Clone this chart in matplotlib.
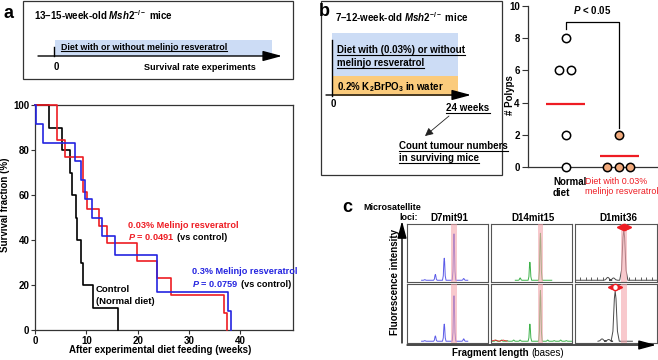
import matplotlib
matplotlib.use('Agg')
import matplotlib.pyplot as plt
from matplotlib.patches import Rectangle
from matplotlib import font_manager as fm

names = {f.name for f in fm.fontManager.ttflist}
FAM = 'Liberation Sans Narrow' if 'Liberation Sans Narrow' in names else 'Liberation Sans'
plt.rcParams['font.family'] = [FAM, 'Liberation Sans', 'DejaVu Sans']
plt.rcParams['font.weight'] = 'bold'
plt.rcParams['mathtext.fontset'] = 'custom'
plt.rcParams['mathtext.rm'] = FAM + ':bold'
plt.rcParams['mathtext.it'] = FAM + ':italic:bold'
plt.rcParams['mathtext.bf'] = FAM + ':bold'

# ---------------- data ----------------
km_weeks_control = [0, 2.8, 5.2, 6.8, 7.3, 8.0, 8.25, 9.0, 9.3, 11.4, 16.2]
km_surv_control = [100, 90, 80, 70, 60, 50, 40, 30, 20, 10, 0]
km_weeks_003 = [0, 4.35, 5.85, 9.3, 10.2, 12.5, 14.0, 19.8, 23.7, 26.45, 36.8, 37.5]
km_surv_003 = [100, 84.6, 76.9, 61.5, 53.8, 46.2, 38.5, 30.8, 23.1, 15.4, 7.7, 0]
km_weeks_03 = [0, 0.1, 1.5, 7.8, 9.0, 9.75, 11.05, 13.0, 15.6, 23.85, 37.7, 38.3]
km_surv_03 = [100, 91.7, 83.3, 75, 66.7, 58.3, 50, 41.7, 33.3, 16.7, 8.3, 0]
km_xticks = [0, 10, 20, 30, 40]
km_yticks = [0, 20, 40, 60, 80, 100]

polyp_groups = ['Normal\ndiet', 'Diet with 0.03%\nmelinjo resveratrol']
polyp_normal = [8, 6, 6, 2, 0]
polyp_normal_x = [1.0, 0.87, 1.09, 1.0, 1.0]
polyp_diet = [2, 0, 0, 0]
polyp_diet_x = [2.0, 1.77, 2.0, 2.21]
polyp_means = [3.9, 0.7]
polyp_yticks = [0, 2, 4, 6, 8, 10]

loci = ['D7mit91', 'D14mit15', 'D1mit36']
# peaks (position within panel 0-1, relative height) per locus, [top row, bottom row]
peaks_pos = [
    [[0.22, 0.35, 0.46, 0.58, 0.70], [0.22, 0.35, 0.46, 0.58, 0.70]],
    [[0.36, 0.48, 0.61], [0.06, 0.13, 0.20, 0.28, 0.36, 0.48, 0.61, 0.70, 0.78, 0.86, 0.93]],
    [[0.40, 0.47, 0.595], [0.33, 0.41, 0.49]],
]
peaks_h = [
    [[0.04, 0.13, 0.41, 0.83, 0.06], [0.04, 0.12, 0.32, 0.80, 0.07]],
    [[0.07, 0.34, 0.84], [0.05, 0.05, 0.04, 0.05, 0.05, 0.32, 0.89, 0.05, 0.04, 0.05, 0.04]],
    [[0.08, 0.07, 0.90], [0.07, 0.06, 0.88]],
]
trace_span = [[[0.18, 0.75], [0.18, 0.75]], [[0.30, 0.75], [0.0, 1.0]], [[0.0, 1.0], [0.28, 0.70]]]
peak_width = [0.022, 0.022, 0.05]
band = [[0.54, 0.62], [0.575, 0.64], [0.56, 0.63]]
trace_colors = ['#5B5BE8', '#3DB24A', '#4A4A4A']
size_std_ticks = [0.06, 0.13, 0.20, 0.27, 0.34, 0.66, 0.73, 0.80, 0.87, 0.94]
allele_marker_x = [0.595, 0.49]

RED = '#EE1C23'
BLUE = '#2424E0'

# ---------------- figure ----------------
W, H = 658, 360
fig = plt.figure(figsize=(W / 100, H / 100), dpi=100)


def fa(x0, y0, x1, y1):
    return [x0 / W, 1 - y1 / H, (x1 - x0) / W, (y1 - y0) / H]


ov = fig.add_axes([0, 0, 1, 1], zorder=10)
ov.set_xlim(0, W)
ov.set_ylim(H, 0)
ov.axis('off')
ov.patch.set_alpha(0)


def T(x, y, s, size=7, **kw):
    kw.setdefault('va', 'center')
    kw.setdefault('ha', 'left')
    return ov.text(x, y, s, fontsize=size, **kw)


def arrow(x0, y0, x1, y1, lw=1.0, hl=1.3, hw=0.35, ms=8):
    ov.annotate('', xy=(x1, y1), xytext=(x0, y0),
                arrowprops=dict(arrowstyle=f'-|>,head_length={hl},head_width={hw}',
                                color='k', lw=lw, mutation_scale=ms,
                                shrinkA=0, shrinkB=0))


# panel labels
T(3, 14, 'a', size=13, family='Liberation Sans')
T(319, 11, 'b', size=13, family='Liberation Sans')
T(342, 207, 'c', size=13, family='Liberation Sans')

# ---- panel a scheme ----
ov.add_patch(Rectangle((23, 1), 270, 78, fill=False, lw=0.9, ec='#333333'))
T(34, 15, r'13–15-week-old $\mathit{Msh2}^{-/-}$ mice')
ov.add_patch(Rectangle((55, 40), 217, 16, color='#CCDCF5', lw=0))
arrow(38, 56, 282, 56, ms=9)
ov.plot([54, 54], [47, 56], color='k', lw=1.0)
ta1 = T(61, 47, 'Diet with or without melinjo resveratrol', size=6.4)
T(56, 67, '0', ha='center')
T(256, 67, 'Survival rate experiments', ha='right', size=6.6)

# ---- panel b scheme ----
ov.add_patch(Rectangle((321, 1), 181, 174, fill=False, lw=0.9, ec='#333333'))
T(335, 17, r'7–12-week-old $\mathit{Msh2}^{-/-}$ mice')
ov.add_patch(Rectangle((332, 33), 126, 43, color='#CCDCF5', lw=0))
ov.add_patch(Rectangle((332, 76), 126, 20, color='#FBCB7C', lw=0))
ov.plot([332, 332], [40, 96], color='k', lw=1.0)
arrow(326, 95, 471, 95, ms=9)
tb1 = T(337, 50, 'Diet with (0.03%) or without')
tb2 = T(337, 63, 'melinjo resveratrol')
T(337, 87, r'0.2% K$_2$BrPO$_3$ in water')
T(333, 104, '0', ha='center')
tb3 = T(468, 108, '24 weeks', ha='center')
ov.annotate('', xy=(425, 136), xytext=(449, 116),
            arrowprops=dict(arrowstyle='-|>,head_length=0.6,head_width=0.3',
                            color='#222222', lw=0.6, mutation_scale=8,
                            shrinkA=0, shrinkB=0))
tb4 = T(399, 146, 'Count tumour numbers')
tb5 = T(399, 158, 'in surviving mice')

# ---- KM plot ----
ax = fig.add_axes(fa(35, 105, 293, 330))
ax.step(km_weeks_control, km_surv_control, where='post', color='k', lw=1.2, clip_on=False, zorder=3)
ax.step(km_weeks_003, km_surv_003, where='post', color=RED, lw=1.2, clip_on=False, zorder=4)
ax.step(km_weeks_03, km_surv_03, where='post', color=BLUE, lw=1.2, clip_on=False, zorder=5)
ax.set_xlim(0, 50.3)
ax.set_ylim(0, 100)
ax.set_xticks(km_xticks)
ax.set_yticks(km_yticks)
ax.tick_params(direction='out', length=3, width=0.8, labelsize=7, pad=1, color='#333333')
for s in ax.spines.values():
    s.set_linewidth(0.9)
    s.set_color('#333333')
for lab in ax.get_xticklabels() + ax.get_yticklabels():
    lab.set_fontweight('bold')
T(5, 205, 'Survival fraction (%)', rotation=90, ha='center')
T(160, 350, 'After experimental diet feeding (weeks)', ha='center')
T(128, 225, '0.03% Melinjo resveratrol', color=RED, size=6.6)
tp1 = T(128, 237, r'$\mathit{P}$ = 0.0491', color=RED, size=6.6)
T(192, 272, '0.3% Melinjo resveratrol', color=BLUE, size=6.6)
tp2 = T(192, 284, r'$\mathit{P}$ = 0.0759', color=BLUE, size=6.6)
T(96, 290, 'Control', size=6.8)
T(96, 302, '(Normal diet)', size=6.8)

# ---- polyps plot ----
ax2 = fig.add_axes(fa(528, 6, 657, 167))
ax2.scatter(polyp_normal_x, polyp_normal, s=36, facecolor='white', edgecolor='k',
            lw=1.1, clip_on=False, zorder=4)
ax2.scatter(polyp_diet_x, polyp_diet, s=36, facecolor='#F2AA7C', edgecolor='k',
            lw=1.1, clip_on=False, zorder=4)
ax2.hlines(polyp_means, [0.63, 1.65], [1.35, 2.37], color=RED, lw=1.6, zorder=3)
ax2.plot([1, 1, 2, 2], [8.6, 9.0, 9.0, 2.45], color='k', lw=0.9)
ax2.text(1.49, 9.35, r'$\mathit{P}$ < 0.05', ha='center', va='bottom', fontsize=7)
ax2.set_xlim(0.283, 2.717)
ax2.set_ylim(0, 10)
ax2.set_xticks([])
ax2.set_yticks(polyp_yticks)
ax2.spines['top'].set_visible(False)
ax2.spines['right'].set_visible(False)
for s in ax2.spines.values():
    s.set_linewidth(0.9)
    s.set_color('#333333')
ax2.tick_params(direction='out', length=4, width=0.8, labelsize=7, pad=2, color='#333333')
for lab in ax2.get_yticklabels():
    lab.set_fontweight('bold')
T(510, 95, '# Polyps', rotation=90, ha='center')
T(553, 177, polyp_groups[0], va='top', linespacing=1.1)
T(585, 177, polyp_groups[1], va='top', color=RED, fontweight='normal', size=6.4,
  linespacing=1.2)

# ---- panel c ----
T(363, 207, 'Microsatellite', size=6.5)
T(418, 218, 'loci:', size=6.5, ha='right')
col_x = [(407, 488), (491, 572), (575, 657)]
row_y = [(224, 282), (284, 343)]
for ci, (x0, x1) in enumerate(col_x):
    T((x0 + x1) / 2 + 2, 218, loci[ci], ha='center')
    for ri, (y0, y1) in enumerate(row_y):
        a = fig.add_axes(fa(x0, y0, x1, y1))
        a.set_xlim(0, 1)
        a.set_ylim(0, 1)
        a.set_xticks([])
        a.set_yticks([])
        for s in a.spines.values():
            s.set_linewidth(0.8)
            s.set_color('#555555')
        base = 0.03
        w = peak_width[ci]
        xs = [trace_span[ci][ri][0]]
        ys = [base]
        for c, h in sorted(zip(peaks_pos[ci][ri], peaks_h[ci][ri])):
            xs += [c - w, c - 0.55 * w, c - 0.2 * w, c, c + 0.2 * w, c + 0.55 * w, c + w]
            ys += [base, base + 0.2 * (h - base), base + 0.85 * (h - base), h,
                   base + 0.85 * (h - base), base + 0.2 * (h - base), base]
        xs.append(trace_span[ci][ri][1])
        ys.append(base)
        a.plot(xs, ys, color=trace_colors[ci], lw=0.7)
        a.axvspan(band[ci][0], band[ci][1], color='#F4A5AD', alpha=0.6, lw=0, zorder=3)
        if ci == 1 and ri == 1:
            a.plot([0.0, 0.05, 0.1, 0.15, 0.2], [0.03, 0.05, 0.03, 0.05, 0.03], color=RED, lw=0.6)
        if ci == 2 and ri == 0:
            a.vlines(size_std_ticks, 0.03, 0.08, color='#444444', lw=0.6)
        if ci == 2:
            mx = allele_marker_x[ri]
            fc = RED if ri == 0 else 'white'
            a.plot([mx], [0.95], 'o', ms=4.5, mfc=fc, mec=RED, mew=1.0, zorder=6, clip_on=False)
            a.plot([mx - 0.06], [0.95], '<', ms=3, color=RED, zorder=6, clip_on=False)
            a.plot([mx + 0.06], [0.95], '>', ms=3, color=RED, zorder=6, clip_on=False)

arrow(402, 343, 402, 221, lw=1.0, ms=8)
arrow(407, 345, 656, 345, lw=1.0, ms=8)
T(395, 282, 'Fluorescence intensity', rotation=90, ha='center')
tf = T(452, 353, 'Fragment length')

# ---- second pass: underlines and dependent texts ----
fig.canvas.draw()
inv = ov.transData.inverted()


def ext(t):
    bb = t.get_window_extent()
    (xa, ya), (xb, yb) = inv.transform([(bb.x0, bb.y0), (bb.x1, bb.y1)])
    return min(xa, xb), max(xa, xb), min(ya, yb), max(ya, yb)


for t in [ta1, tb1, tb2, tb3, tb4, tb5]:
    x0, x1, y0, y1 = ext(t)
    ov.plot([x0, x1], [y1 - 0.5, y1 - 0.5], color='k', lw=0.8)

for t in [tp1, tp2]:
    x0, x1, y0, y1 = ext(t)
    T(x1 + 3, (y0 + y1) / 2 + 0.5, '(vs control)', size=6.6)

x0, x1, y0, y1 = ext(tf)
T(x1 + 2.5, 353, '(bases)', fontweight='normal')

fig.savefig('out.png', dpi=100)
